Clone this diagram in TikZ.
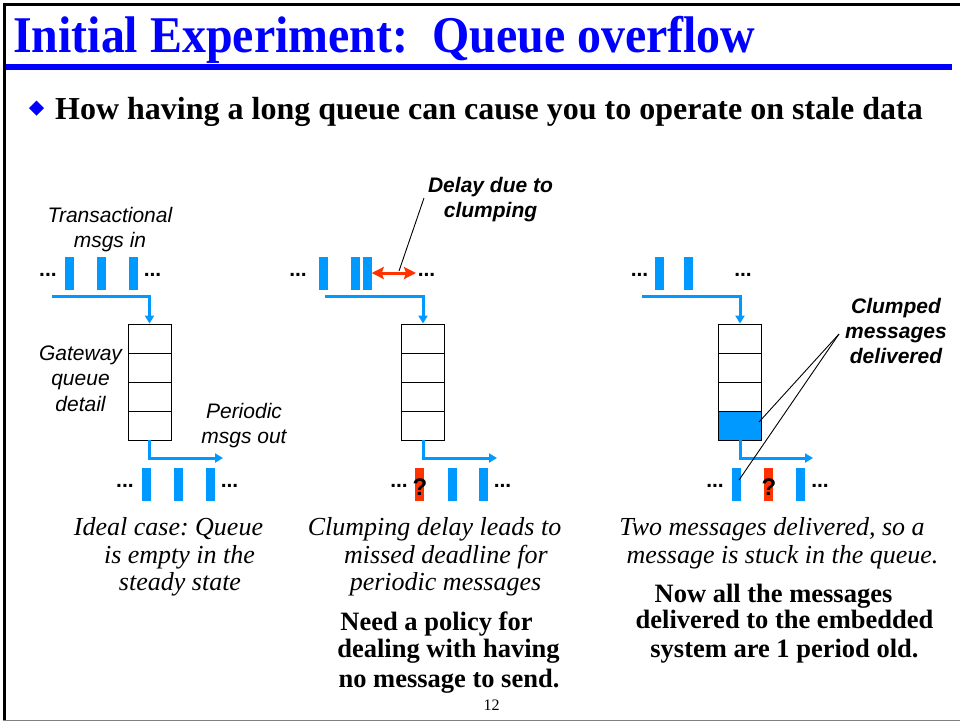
\documentclass[tikz,border=0pt]{standalone}
\usepackage{fontspec}
\usepackage{graphicx}
\setmainfont{Liberation Serif}
\setsansfont{Liberation Sans}
\usetikzlibrary{arrows.meta}
\frenchspacing

\definecolor{msgblue}{RGB}{0,153,255}
\definecolor{titleblue}{RGB}{0,0,255}
\definecolor{lateRed}{RGB}{255,51,0}

\begin{document}
\begin{tikzpicture}[x=1pt,y=-1pt,
  bar/.style={fill=msgblue, draw=none, minimum width=9pt, minimum height=33pt, inner sep=0pt},
  latebar/.style={bar, fill=lateRed},
  cell/.style={draw=black, line width=0.9pt, fill=white, minimum width=43pt, minimum height=29pt, inner sep=0pt},
  flow/.style={draw=msgblue, line width=3pt, -{Triangle[width=9pt,length=8pt]}},
  delayarrow/.style={draw=lateRed, line width=3pt, {Stealth[width=12pt,length=12pt,inset=2pt]}-{Stealth[width=12pt,length=12pt,inset=2pt]}},
  leader/.style={draw=black, line width=0.9pt},
  dots/.style={anchor=base, inner sep=0pt, font=\fontsize{21}{25}\selectfont\sffamily\bfseries},
  qmark/.style={anchor=base, inner sep=0pt, font=\fontsize{24}{28}\selectfont\sffamily\bfseries},
  label/.style={anchor=base, inner sep=0pt, font=\fontsize{21}{25}\selectfont\sffamily\itshape},
  boldlabel/.style={anchor=base, inner sep=0pt, font=\fontsize{21}{25}\selectfont\sffamily\bfseries\itshape},
  caption/.style={anchor=base, inner sep=0pt, font=\fontsize{26}{28}\selectfont\itshape},
  remark/.style={anchor=base, inner sep=0pt, font=\fontsize{26.5}{28}\selectfont\bfseries}]

\useasboundingbox (0,0) rectangle (960,721);

% slide frame and title rule
\fill[black] (3,3) rectangle (960,6);
\fill[black] (3,3) rectangle (6,721);
\fill[gray] (3,719.5) rectangle (960,721);
\fill[titleblue] (6,64) rectangle (952,70);

% title and bullet
\node[anchor=base west, inner sep=0pt, text=titleblue,
      font=\fontsize{51.5}{60}\selectfont\bfseries] (title) at (13,52)
      {\scalebox{0.93}[1]{Initial Experiment:\ \ Queue overflow}};
\fill[titleblue] (36.5,100.5) -- (44,108) -- (36.5,115.5) -- (29,108) -- cycle;
\node[anchor=base west, inner sep=0pt, font=\fontsize{32}{36}\selectfont\bfseries] (bullet) at (55,119)
      {How having a long queue can cause you to operate on stale data};

% ---------- case 1: ideal ----------
\node[label] (trans1) at (110,222) {Transactional};
\node[label] (trans2) at (110,247) {msgs in};
\node[dots] (p1inL) at (48,276) {...};
\node[bar] (p1in1) at (69,273) {};
\node[bar] (p1in2) at (101.5,273) {};
\node[bar] (p1in3) at (133,273) {};
\node[dots] (p1inR) at (152.5,276) {...};

\node[cell] (q1c1) at (149.5,338.5) {};
\node[cell] (q1c2) at (149.5,367.5) {};
\node[cell] (q1c3) at (149.5,396.5) {};
\node[cell] (q1c4) at (149.5,425.5) {};

\node[label] (gw1) at (80.5,360) {Gateway};
\node[label] (gw2) at (80.5,385.5) {queue};
\node[label] (gw3) at (80.5,411) {detail};
\node[label] (per1) at (244,418) {Periodic};
\node[label] (per2) at (244,443) {msgs out};

\coordinate (in1) at (52,296);
\coordinate (out1) at (223,458);
\draw[flow] (in1) -| (q1c1.north);
\draw[flow] (q1c4.south) |- (out1);

\node[dots] (p1outL) at (125,487) {...};
\node[bar] (p1out1) at (146.5,484.5) {};
\node[bar] (p1out2) at (178,484.5) {};
\node[bar] (p1out3) at (210.5,484.5) {};
\node[dots] (p1outR) at (229.5,487) {...};

\node[caption] (c1a) at (168.5,535) {Ideal case: Queue};
\node[caption] (c1b) at (179.5,563) {is empty in the};
\node[caption] (c1c) at (180,590) {steady state};

% ---------- case 2: clumping ----------
\node[dots] (p2inL) at (298,276) {...};
\node[bar] (p2in1) at (323.5,273) {};
\node[bar] (p2in2) at (355,273) {};
\node[bar] (p2in3) at (367,273) {};
\node[dots] (p2inR) at (426.5,276) {...};
\coordinate (delayEnd) at (416,273);
\draw[delayarrow] (p2in3.east) -- (delayEnd);

\node[boldlabel] (dl1) at (490.5,192) {Delay due to};
\node[boldlabel] (dl2) at (490.5,217) {clumping};
\coordinate (dlFoot) at (399,271);
\coordinate (dlHead) at (424,198);
\draw[leader] (dlFoot) -- (dlHead);

\node[cell] (q2c1) at (423,338.5) {};
\node[cell] (q2c2) at (423,367.5) {};
\node[cell] (q2c3) at (423,396.5) {};
\node[cell] (q2c4) at (423,425.5) {};

\coordinate (in2) at (325,296);
\coordinate (out2) at (497,458);
\draw[flow] (in2) -| (q2c1.north);
\draw[flow] (q2c4.south) |- (out2);

\node[dots] (p2outL) at (399,487) {...};
\node[latebar] (p2out1) at (419.5,484.5) {};
\node[qmark] (p2q) at (420,495) {?};
\node[bar] (p2out2) at (452,484.5) {};
\node[bar] (p2out3) at (483.5,484.5) {};
\node[dots] (p2outR) at (502.5,487) {...};

\node[caption] (c2a) at (434.5,535) {Clumping delay leads to};
\node[caption] (c2b) at (446,563) {missed deadline for};
\node[caption] (c2c) at (445.5,590) {periodic messages};

\node[remark] (r2a) at (436.5,630) {Need a policy for};
\node[remark] (r2b) at (448.5,657) {dealing with having};
\node[remark] (r2c) at (449,687) {no message to send.};

% ---------- case 3: delivered late ----------
\node[dots] (p3inL) at (639.5,276) {...};
\node[bar] (p3in1) at (659.5,273) {};
\node[bar] (p3in2) at (688.5,273) {};
\node[dots] (p3inR) at (743,276) {...};

\node[cell] (q3c1) at (740,338.5) {};
\node[cell] (q3c2) at (740,367.5) {};
\node[cell] (q3c3) at (740,396.5) {};
\node[cell, fill=msgblue] (q3c4) at (740,425.5) {};

\coordinate (in3) at (642,296);
\coordinate (out3) at (813,458);
\draw[flow] (in3) -| (q3c1.north);
\draw[flow] (q3c4.south) |- (out3);

\node[dots] (p3outL) at (715,487) {...};
\node[bar] (p3out1) at (736.5,484.5) {};
\node[latebar] (p3out2) at (768.5,484.5) {};
\node[qmark] (p3q) at (769,495) {?};
\node[bar] (p3out3) at (800.5,484.5) {};
\node[dots] (p3outR) at (820,487) {...};

\node[boldlabel] (cm1) at (896,313) {Clumped};
\node[boldlabel] (cm2) at (896,338) {messages};
\node[boldlabel] (cm3) at (896,363) {delivered};
\coordinate (cmFoot) at (839,334);
\coordinate (cmCell) at (759,422);
\coordinate (cmBar) at (739,480);
\draw[leader] (cmFoot) -- (cmCell);
\draw[leader] (cmFoot) -- (cmBar);

\node[caption] (c3a) at (772,535) {Two messages delivered, so a};
\node[caption] (c3b) at (782.5,563) {message is stuck in the queue.};

\node[remark] (r3a) at (773.5,602) {Now all the messages};
\node[remark] (r3b) at (784.5,628) {delivered to the embedded};
\node[remark] (r3c) at (784.5,657) {system are 1 period old.};

% page number
\node[anchor=base, inner sep=0pt, font=\fontsize{16}{18}\selectfont] (pageno) at (491.5,710) {12};

\end{tikzpicture}
\end{document}
